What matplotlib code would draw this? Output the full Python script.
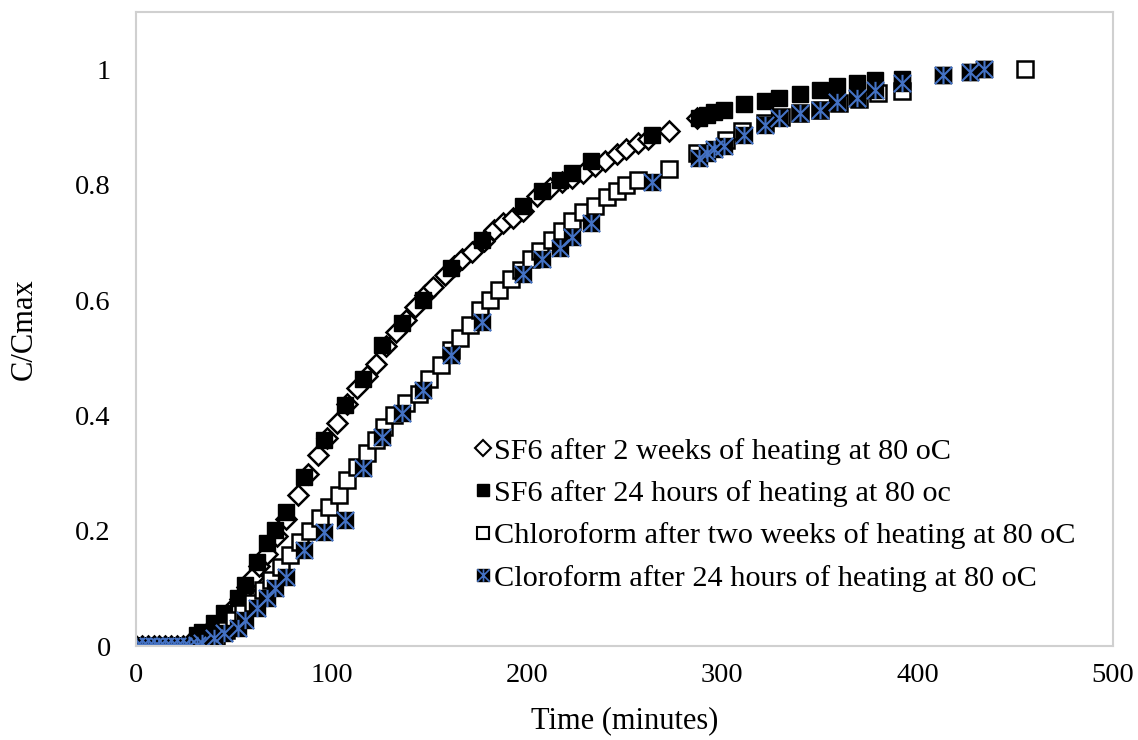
"""
Curvas de concentración normalizada C/Cmax frente al tiempo (SF6 y cloroformo).
"""
import matplotlib
matplotlib.use("Agg")
import matplotlib.pyplot as plt
from matplotlib.path import Path
from matplotlib.lines import Line2D
from matplotlib.legend_handler import HandlerTuple

plt.rcParams['font.family'] = ['Liberation Serif', 'DejaVu Serif']

# --- datos ---
# SF6 tras 2 semanas de calentamiento (rombos)
t_sf6_2w = [0, 3, 6, 9, 12, 15, 18, 21, 24, 27, 30, 33, 36, 40, 43, 46, 50, 53, 57, 60,
            63, 67, 72, 77, 83, 88, 93, 98, 103, 108, 113, 118, 123, 128, 133, 138, 143,
            148, 152, 158, 163, 167, 172, 178, 183, 188, 193, 198, 205, 212, 218, 223,
            229, 235, 240, 246, 251, 257, 262, 273, 287]
c_sf6_2w = [0, 0, 0, 0, 0, 0, 0, 0, 0, 0.003, 0.008, 0.013, 0.02, 0.03, 0.04, 0.052, 0.068,
            0.082, 0.102, 0.12, 0.139, 0.16, 0.19, 0.22, 0.262, 0.298, 0.331, 0.36, 0.386,
            0.42, 0.447, 0.468, 0.49, 0.52, 0.545, 0.566, 0.588, 0.608, 0.622, 0.643, 0.66,
            0.672, 0.683, 0.702, 0.721, 0.733, 0.742, 0.755, 0.78, 0.795, 0.804, 0.812,
            0.82, 0.832, 0.842, 0.853, 0.862, 0.872, 0.88, 0.894, 0.915]

# tiempos comunes de las dos series de 24 horas
t_24h = [0, 3, 6, 9, 12, 15, 18, 21, 24, 27, 31, 34, 40, 45, 52, 56, 62, 67, 71, 77,
         86, 96, 107, 116, 126, 136, 147, 161, 177, 198, 208, 217, 223, 233, 264, 288,
         292, 296, 301, 311, 322, 329, 340, 350, 359, 369, 378, 392, 413, 427, 434]
# SF6 tras 24 horas (cuadrados negros)
c_sf6_24h = [0, 0, 0, 0, 0, 0, 0, 0, 0, 0, 0.019, 0.024, 0.04, 0.057, 0.083, 0.106, 0.146,
             0.178, 0.201, 0.232, 0.293, 0.357, 0.418, 0.463, 0.522, 0.56, 0.6, 0.655,
             0.704, 0.764, 0.79, 0.808, 0.821, 0.842, 0.886, 0.915, 0.921, 0.926, 0.929,
             0.941, 0.946, 0.95, 0.958, 0.964, 0.972, 0.977, 0.981, 0.984, 0.99, 0.995, 1.0]
# cloroformo tras 24 horas (cuadrados con asterisco azul)
c_cl_24h = [0, 0, 0, 0, 0, 0, 0, 0, 0, 0, 0.002, 0.005, 0.014, 0.022, 0.031, 0.045, 0.066,
            0.083, 0.1, 0.12, 0.166, 0.198, 0.218, 0.308, 0.362, 0.404, 0.444, 0.504,
            0.562, 0.645, 0.672, 0.691, 0.709, 0.733, 0.804, 0.847, 0.855, 0.862, 0.868,
            0.886, 0.903, 0.915, 0.924, 0.929, 0.943, 0.95, 0.964, 0.977, 0.99, 0.995, 1.0]

# cloroformo tras dos semanas (cuadrados vacios)
t_cl_2w = [0, 3, 6, 9, 12, 15, 18, 21, 24, 27, 30, 33, 36, 41, 46, 50, 55, 60, 65, 69, 74,
           79, 84, 89, 94, 99, 104, 108, 113, 118, 123, 127, 132, 138, 145, 150, 156, 161,
           166, 171, 176, 181, 186, 192, 197, 202, 207, 213, 218, 223, 229, 235, 241, 246,
           251, 257, 273, 287, 302, 310, 322, 330, 340, 350, 360, 370, 380, 392, 455]
c_cl_2w = [0, 0, 0, 0, 0, 0, 0, 0, 0, 0, 0, 0.002, 0.005, 0.016, 0.028, 0.045, 0.057, 0.074,
           0.097, 0.114, 0.137, 0.158, 0.18, 0.2, 0.222, 0.241, 0.262, 0.288, 0.31, 0.335,
           0.358, 0.38, 0.4, 0.421, 0.438, 0.464, 0.487, 0.513, 0.535, 0.556, 0.582, 0.6,
           0.617, 0.636, 0.652, 0.672, 0.686, 0.704, 0.719, 0.737, 0.752, 0.764, 0.778,
           0.79, 0.8, 0.808, 0.828, 0.856, 0.877, 0.893, 0.908, 0.918, 0.925, 0.93, 0.942,
           0.948, 0.96, 0.962, 1.0]

labels = ["SF6 after 2 weeks of heating at 80 oC",
          "SF6 after 24 hours of heating at 80 oc",
          "Chloroform after two weeks of heating at 80 oC",
          "Cloroform after 24 hours of heating at 80 oC"]

# asterisco tipo Excel: linea vertical + dos diagonales
estrella = Path([(0, -1), (0, 1), (-1, -1), (1, 1), (-1, 1), (1, -1)],
                [Path.MOVETO, Path.LINETO, Path.MOVETO, Path.LINETO, Path.MOVETO, Path.LINETO])
azul = "#4472c4"

fig = plt.figure(figsize=(11.38, 7.40), dpi=100)
ax = fig.add_axes([0.1195, 0.127, 0.8585, 0.857])

ax.plot(t_sf6_2w, c_sf6_2w, ls="none", marker="D", ms=10.5, mfc="white",
        mec="black", mew=1.8)
ax.plot(t_24h, c_sf6_24h, ls="none", marker="s", ms=12, mfc="black", mec="black", mew=1)
ax.plot(t_cl_2w, c_cl_2w, ls="none", marker="s", ms=11.5, mfc="white",
        mec="black", mew=1.8)
ax.plot(t_24h, c_cl_24h, ls="none", marker="s", ms=12, mfc="black", mec="black", mew=1)
ax.plot(t_24h, c_cl_24h, ls="none", marker=estrella, ms=12.5, mec=azul, mew=1.5)

ax.set_xlim(0, 500)
ax.set_ylim(0, 1.1)
ax.set_xticks([0, 100, 200, 300, 400, 500])
ax.set_yticks([0, 0.2, 0.4, 0.6, 0.8, 1.0])
ax.set_yticklabels(["0", "0.2", "0.4", "0.6", "0.8", "1"])
ax.tick_params(length=0, labelsize=20.5, colors="black")
ax.tick_params(axis="y", pad=18)
ax.tick_params(axis="x", pad=12)
for s in ax.spines.values():
    s.set_color("#d0d0d0")
    s.set_linewidth(1.5)

ax.set_xlabel("Time (minutes)", fontsize=22, labelpad=13)
ax.set_ylabel("C/Cmax", fontsize=22, labelpad=26)

# leyenda
h1 = Line2D([], [], ls="none", marker="D", ms=8, mfc="white", mec="black", mew=1.5)
h2 = Line2D([], [], ls="none", marker="s", ms=9, mfc="black", mec="black")
h3 = Line2D([], [], ls="none", marker="s", ms=9, mfc="white", mec="black", mew=1.5)
h4a = Line2D([], [], ls="none", marker="s", ms=9, mfc="black", mec="black")
h4b = Line2D([], [], ls="none", marker=estrella, ms=9, mec=azul, mew=1.2)
ax.legend([h1, h2, h3, (h4a, h4b)], labels,
          handler_map={tuple: HandlerTuple(ndivide=1)},
          loc="upper left", bbox_to_anchor=(0.337, 0.348), frameon=False,
          fontsize=21.8, handlelength=0.4, handletextpad=0.15, labelspacing=0.5,
          borderaxespad=0)

fig.savefig("out.png", dpi=100)
